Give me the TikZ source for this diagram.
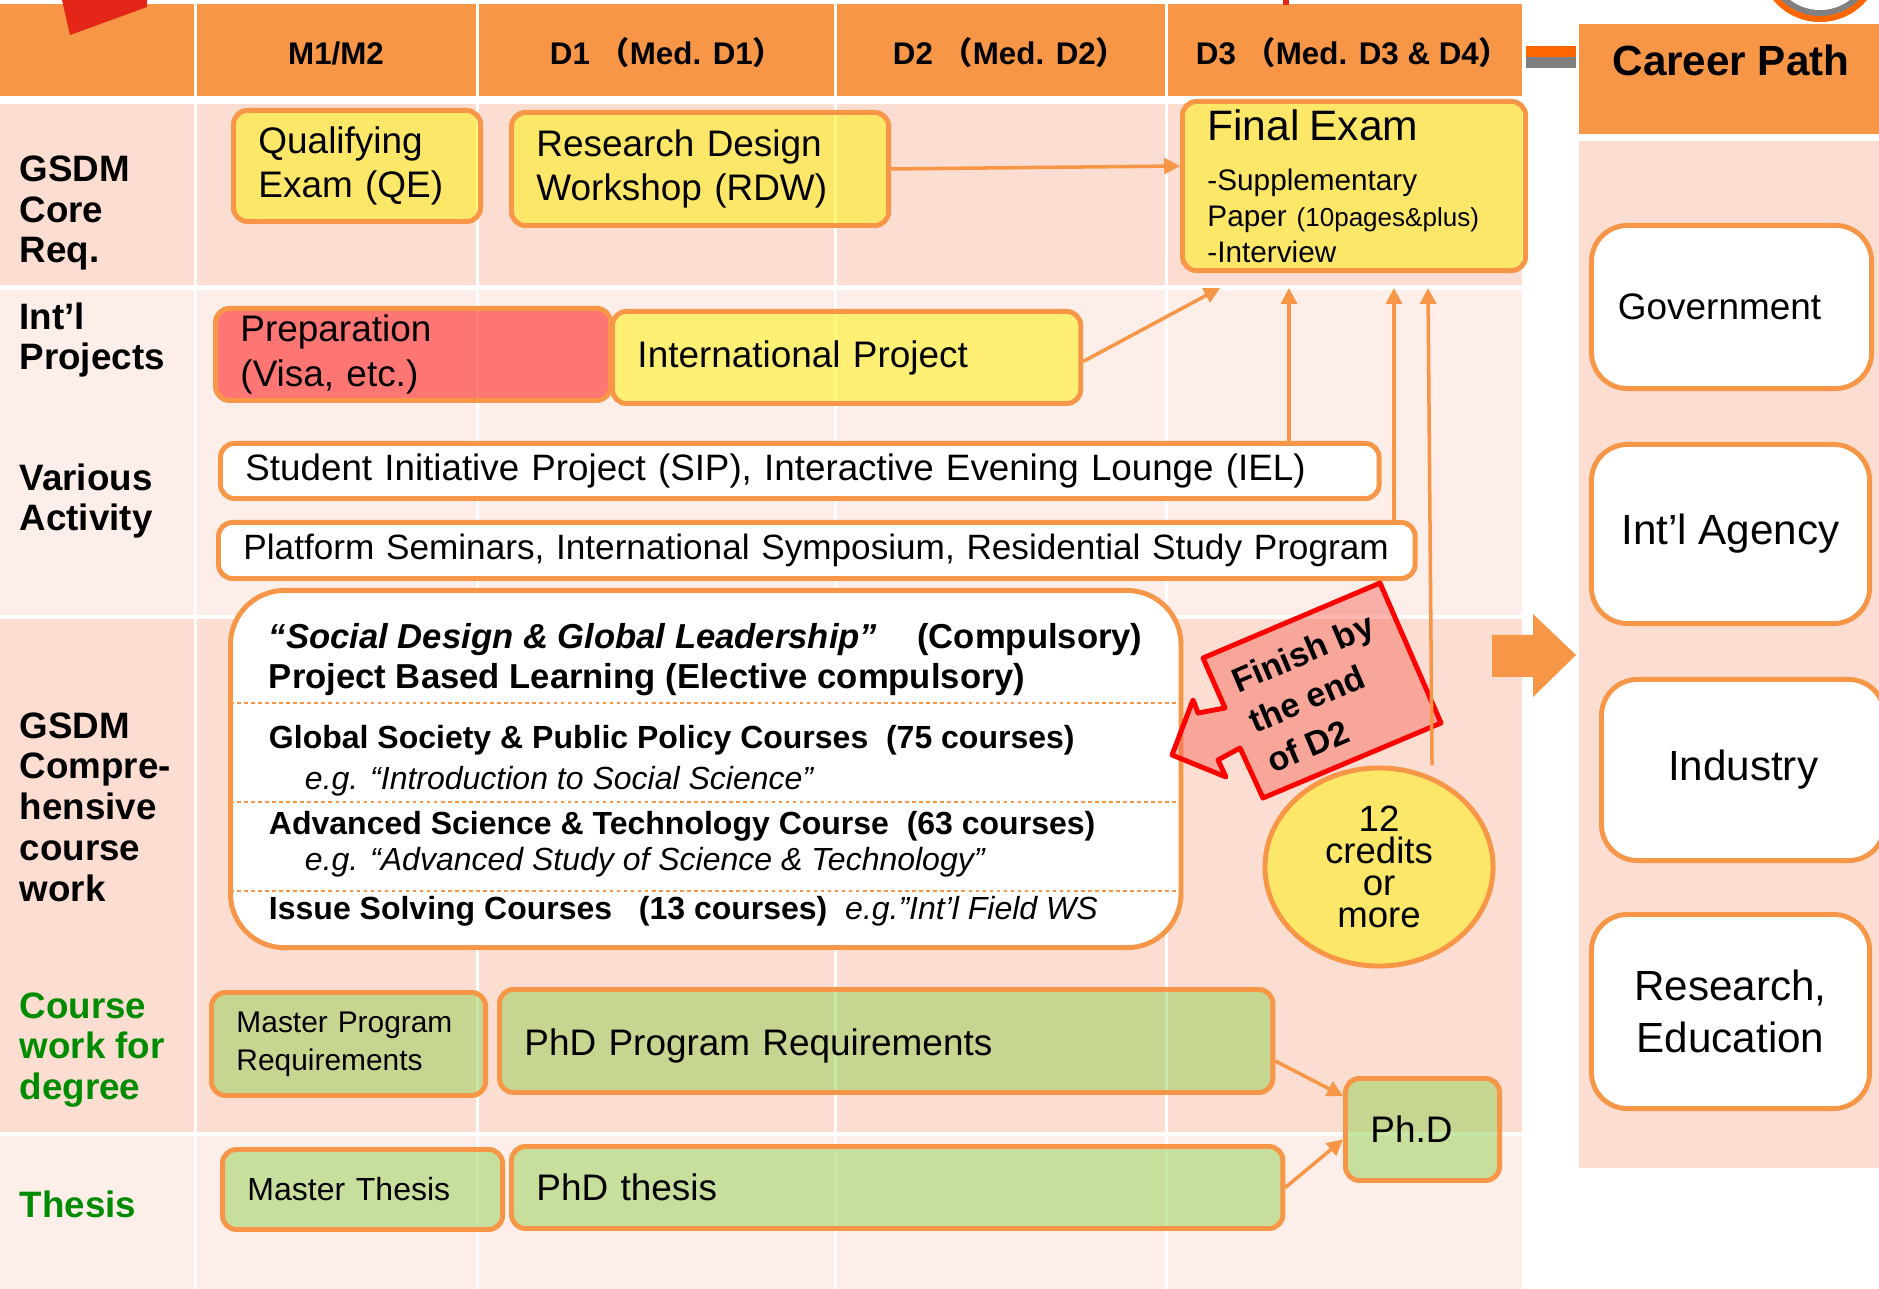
\documentclass[tikz,border=0pt]{standalone}
\usepackage{fontspec}
\setmainfont{Liberation Sans}
\newfontfamily\cjk{Noto Sans CJK JP}
\usetikzlibrary{arrows.meta,shapes.geometric,calc}
\definecolor{gsorange}{RGB}{247,150,70}
\definecolor{rowdark}{RGB}{252,221,209}
\definecolor{rowlight}{RGB}{253,238,233}
\definecolor{gsgreen}{RGB}{0,140,0}
\definecolor{lgreen}{RGB}{146,208,80}
\definecolor{barorange}{RGB}{255,102,0}
\definecolor{calloutred}{RGB}{245,110,100}
\definecolor{topred}{RGB}{228,38,24}
\definecolor{ringgray}{RGB}{128,128,128}
\newcommand\bxfont{\fontsize{10.5}{12.6}\selectfont}
\newcommand\crsfont{\fontsize{9.1}{11.4}\selectfont}

\begin{document}
\begin{tikzpicture}[x=0.01cm, y=-0.01cm, line join=round,
  tbox/.style={draw=gsorange, line width=1.4pt, rounded corners=4pt, anchor=north west,
    inner xsep=0.25cm, inner ysep=0pt, align=left, fill opacity=0.5, text opacity=1, font=\bxfont},
  ybox/.style={tbox, fill=yellow},
  gbox/.style={tbox, fill=lgreen},
  wbox/.style={tbox, fill=white, fill opacity=1},
  cbox/.style={draw=gsorange, line width=1.4pt, rounded corners=0.36cm, fill=white,
    anchor=north west, align=center, inner sep=0pt, font=\fontsize{12}{14.7}\selectfont},
  rowlabel/.style={anchor=west, align=left, inner sep=0pt, font=\fontsize{10.45}{11.6}\selectfont\bfseries},
  colhead/.style={inner sep=0pt, font=\fontsize{8.9}{10}\selectfont\bfseries},
  link/.style={draw=gsorange, line width=1pt, -{Triangle[length=4.5pt,width=4.5pt]}},
  dotline/.style={draw=gsorange, line width=0.4pt, dash pattern=on 1pt off 1pt}]
\useasboundingbox (0,0) rectangle (1879,1289);

% table
\fill[rowdark]  (0,104)  rectangle (1522,285);
\fill[rowlight] (0,290)  rectangle (1522,615);
\fill[rowdark]  (0,619)  rectangle (1522,1132);
\fill[rowlight] (0,1136) rectangle (1522,1289);
\fill[gsorange] (0,4)    rectangle (1522,96);
\foreach \x in {195,477,835,1166}
  \draw[white, line width=0.03cm] (\x,0) -- (\x,1289);
\fill[topred] (62,0) -- (147,0) -- (147,7) -- (70,35) -- cycle;
\fill[topred] (1283,0) rectangle (1289,5);

\node[colhead] (hm)  at (336,53)  {M1/M2};
\node[colhead] (hd1) at (667,53)  {D1 {\cjk（}Med. D1{\cjk）}};
\node[colhead] (hd2) at (1010,53) {D2 {\cjk（}Med. D2{\cjk）}};
\node[colhead] (hd3) at (1353,53) {D3 {\cjk（}Med. D3 \& D4{\cjk）}};

\node[rowlabel] (lcore) at (19,213)  {GSDM\\Core\\Req.};
\node[rowlabel] (lintl) at (19,340)  {Int’l\\Projects};
\node[rowlabel] (lvar)  at (19,501)  {Various\\Activity};
\node[rowlabel] (lcomp) at (19,807)  {GSDM\\Compre-\\hensive\\course\\work};
\node[rowlabel, text=gsgreen] (ldeg)  at (19,1050) {Course\\work for\\degree};
\node[rowlabel, text=gsgreen] (lthes) at (19,1204) {Thesis};

% boxes
\node[ybox, text width=1.97cm, minimum height=1.11cm] (qe)  at (231,108) {Qualifying\\Exam (QE)};
\node[ybox, text width=3.27cm, minimum height=1.13cm] (rdw) at (509,110) {Research Design\\Workshop (RDW)};
\node[ybox, text width=2.93cm, minimum height=1.69cm, font=\fontsize{8.45}{10.2}\selectfont] (fe) at (1180,99)
  {{\fontsize{12.1}{14}\selectfont Final Exam}\\[4.2pt]
   -Supplementary\\
   Paper {\fontsize{7.4}{9}\selectfont(10pages\&plus)}\\
   -Interview};
\node[tbox, fill=red, text width=3.45cm, minimum height=0.92cm] (prep) at (213,306) {Preparation\\(Visa, etc.)};
\node[ybox, text width=4.18cm, minimum height=0.92cm] (ip)   at (610,309) {International Project};
\node[wbox, text width=11.08cm, minimum height=0.55cm, font=\fontsize{10.45}{12}\selectfont] (sip) at (218,441)
  {\mbox{Student Initiative Project (SIP), Interactive Evening Lounge (IEL)}};
\node[wbox, text width=11.46cm, minimum height=0.56cm, font=\fontsize{10}{12}\selectfont] (plat) at (216,520)
  {\mbox{Platform Seminars, International Symposium, Residential Study Program}};

\node[wbox, rounded corners=0.54cm, inner xsep=0pt, minimum width=9.5cm, minimum height=3.57cm,
  font=\fontsize{9.85}{11.4}\selectfont\bfseries] (crs) at (228,588)
  {\rule{0pt}{10.4pt}\makebox[6.48cm][l]{\textit{“Social Design \& Global Leadership”}}(Compulsory)\\
   Project Based Learning (Elective compulsory)\\[5.7pt]
   {\crsfont Global Society \& Public Policy Courses\ \ (75 courses)}\\
   \hspace*{0.36cm}{\crsfont\mdseries\itshape e.g. “Introduction to Social Science”}\\[1.4pt]
   {\crsfont Advanced Science \& Technology Course\ \ (63 courses)}\\[-0.9pt]
   \hspace*{0.36cm}{\crsfont\mdseries\itshape e.g. “Advanced Study of Science \& Technology”}\\[2.3pt]
   {\crsfont Issue Solving Courses\ \ \ (13 courses)\ \ {\mdseries\itshape e.g."Int'l Field WS}}};
\foreach \y in {703,802,891}
  \draw[dotline] (230,\y) -- (1176,\y);

\node[gbox, text width=2.24cm, minimum height=1.03cm, font=\fontsize{8.5}{10.9}\selectfont] (mpr) at (209,990)
  {Master Program\\Requirements};
\node[gbox, text width=7.23cm, minimum height=1.03cm, font=\fontsize{10.5}{12}\selectfont] (ppr) at (497,987)
  {\rule{0pt}{10.5pt}PhD Program Requirements};
\node[gbox, text width=2.30cm, minimum height=0.80cm, font=\fontsize{9.1}{11}\selectfont] (mth) at (220,1147)
  {Master Thesis};
\node[gbox, text width=7.21cm, minimum height=0.82cm] (pth) at (509,1144) {PhD thesis};
\node[gbox, text width=1.04cm, minimum height=1.02cm] (phd) at (1343,1076) {Ph.D};

\node[ellipse, draw=gsorange, line width=1.4pt, fill=yellow, fill opacity=0.5, text opacity=1,
  minimum width=2.28cm, minimum height=1.98cm, inner sep=0pt, align=center,
  font=\fontsize{10.4}{9.1}\selectfont] (cr) at (1379,867) {12\\credits\\or\\more};

\filldraw[draw=red, line width=1.4pt, fill=calloutred, fill opacity=0.5]
  (1203,658) -- (1380,583) -- (1441,723) -- (1263,798) -- (1240,748) -- (1218,760)
  -- (1226,777) -- (1172,755) -- (1193,700) -- (1198,713) -- (1225,708) -- cycle;
\node[rotate=23, align=left, inner sep=0pt, font=\fontsize{9.7}{12.5}\selectfont\bfseries] (due) at (1320,693)
  {Finish by\\the end\\of D2};

% connectors
\coordinate (fe0) at (1220,288);
\coordinate (fe1) at (1289,288);
\coordinate (fe2) at (1394,288);
\coordinate (fe3) at (1428,288);
\draw[link] (rdw.east) -- ([yshift=0.2cm]fe.west);
\draw[link] ([yshift=-0.04cm]ip.east) -- (fe0);
\draw[link] (sip.north -| fe1) -- (fe1);
\draw[link] (plat.north -| fe2) -- (fe2);
\draw[link] ([xshift=0.53cm]cr.north) -- (fe3);
\draw[link] ([yshift=-0.2cm]ppr.east) -- ([yshift=-0.2cm]phd.north west);
\draw[link] (pth.east) -- ([yshift=-0.1cm]phd.west);

% career path
\fill[gsorange] (1492,635) -- (1533,635) -- (1533,614) -- (1576,655) -- (1533,697)
  -- (1533,677) -- (1492,677) -- cycle;
\fill[barorange] (1526,46) rectangle (1576,57);
\fill[ringgray]  (1526,57) rectangle (1576,68);
\fill[barorange] (1820,-39) circle (0.61cm);
\fill[ringgray]  (1820,-39) circle (0.55cm);
\fill[white]     (1820,-39) circle (0.49cm);
\fill[gsorange] (1579,24)  rectangle (1879,134);
\fill[rowdark]  (1579,141) rectangle (1879,1168);
\node[font=\fontsize{12}{14}\selectfont\bfseries] (career) at (1731,60) {Career Path};
\node[cbox, minimum width=2.80cm, minimum height=1.63cm, font=\bxfont] (gov) at (1589,223) {Government\hspace*{0.24cm}};
\node[cbox, minimum width=2.78cm, minimum height=1.79cm] (agency) at (1589,442) {Int’l Agency};
\node[cbox, minimum width=2.83cm, minimum height=1.81cm] (ind)    at (1599,677) {Industry};
\node[cbox, minimum width=2.78cm, minimum height=1.94cm] (res)    at (1589,912) {Research,\\Education};
\end{tikzpicture}
\end{document}
